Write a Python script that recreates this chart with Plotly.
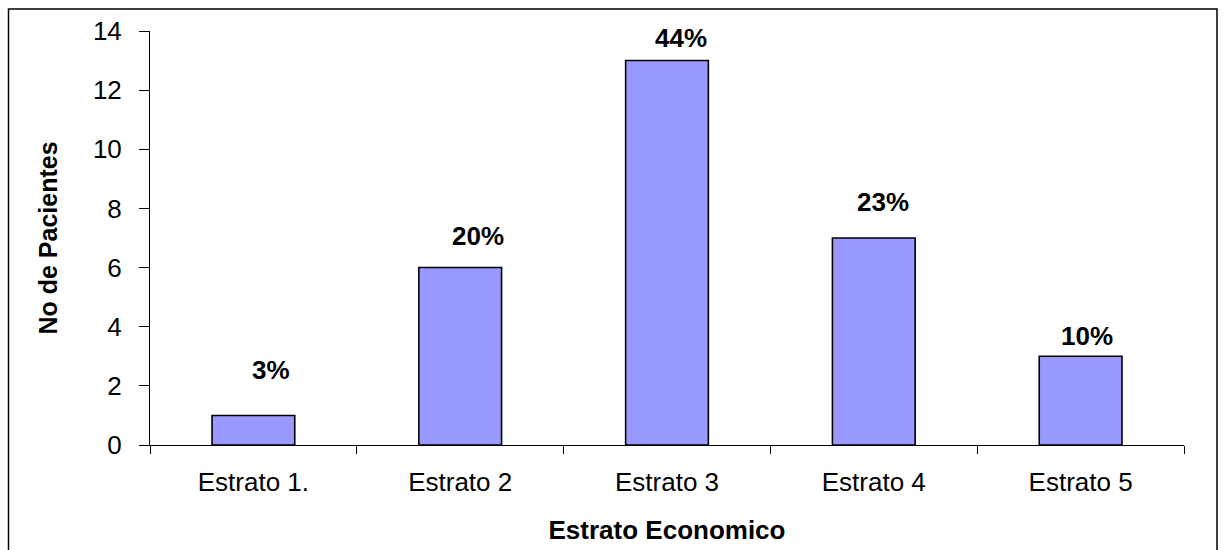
import plotly.graph_objects as go

categories = ["Estrato 1.", "Estrato 2", "Estrato 3", "Estrato 4", "Estrato 5"]
pacientes = [1, 6, 13, 7, 3]
porcentajes = ["3%", "20%", "44%", "23%", "10%"]
y_ticks = [0, 2, 4, 6, 8, 10, 12, 14]

# label offsets (pixels) relative to bar top centre, as in the reference
label_dx = [18, 18, 14, 9, 6]
label_dy = [45, 32, 23, 36, 20]

W, H = 1226, 550
ml, mr, mt, mb = 150, 42, 31, 105
pw, ph = W - ml - mr, H - mt - mb

fig = go.Figure()
fig.add_trace(go.Bar(
    x=categories, y=pacientes,
    marker=dict(color="#9999FF", line=dict(color="#000000", width=1.6)),
    width=0.4,
))

for c, v, t, dx, dy in zip(categories, pacientes, porcentajes, label_dx, label_dy):
    fig.add_annotation(x=c, y=v, text=t, showarrow=False,
                       xshift=dx, yshift=dy,
                       font=dict(family="Liberation Sans, Arial", size=26, color="#000000", weight="bold"))

font = dict(family="Liberation Sans, Arial", size=26, color="#000000")

fig.update_layout(
    width=W, height=H,
    margin=dict(l=ml, r=mr, t=mt, b=mb),
    paper_bgcolor="white", plot_bgcolor="white",
    showlegend=False,
    font=font,
    xaxis=dict(
        type="category", tickson="boundaries", ticks="outside", ticklen=8,
        tickcolor="#000000", tickwidth=1,
        showline=True, linecolor="#000000", linewidth=1,
        showgrid=False, zeroline=False,
        tickfont=font, ticklabelstandoff=14,
        title=dict(text="<b>Estrato Economico</b>", standoff=24,
                   font=dict(family="Liberation Sans, Arial", size=26, color="#000000")),
    ),
    yaxis=dict(
        range=[0, 14], tickvals=y_ticks, ticks="outside", ticklen=10,
        tickcolor="#000000", tickwidth=1,
        showline=True, linecolor="#000000", linewidth=1,
        showgrid=False, zeroline=False,
        tickfont=font, ticklabelstandoff=12,
        title=dict(text="<b>No de Pacientes</b>", standoff=28,
                   font=dict(family="Liberation Sans, Arial", size=25, color="#000000")),
    ),
)

# outer chart border (as in the reference: left, top, right; bottom is cut off)
fig.add_shape(type="rect", xref="paper", yref="paper",
              x0=(8.5 - ml) / pw, x1=(1217 - ml) / pw,
              y0=(H - mb - 560) / ph, y1=(H - mb - 9) / ph,
              line=dict(color="#000000", width=1.5), fillcolor="rgba(0,0,0,0)",
              layer="below")

fig.write_html("out.html")
